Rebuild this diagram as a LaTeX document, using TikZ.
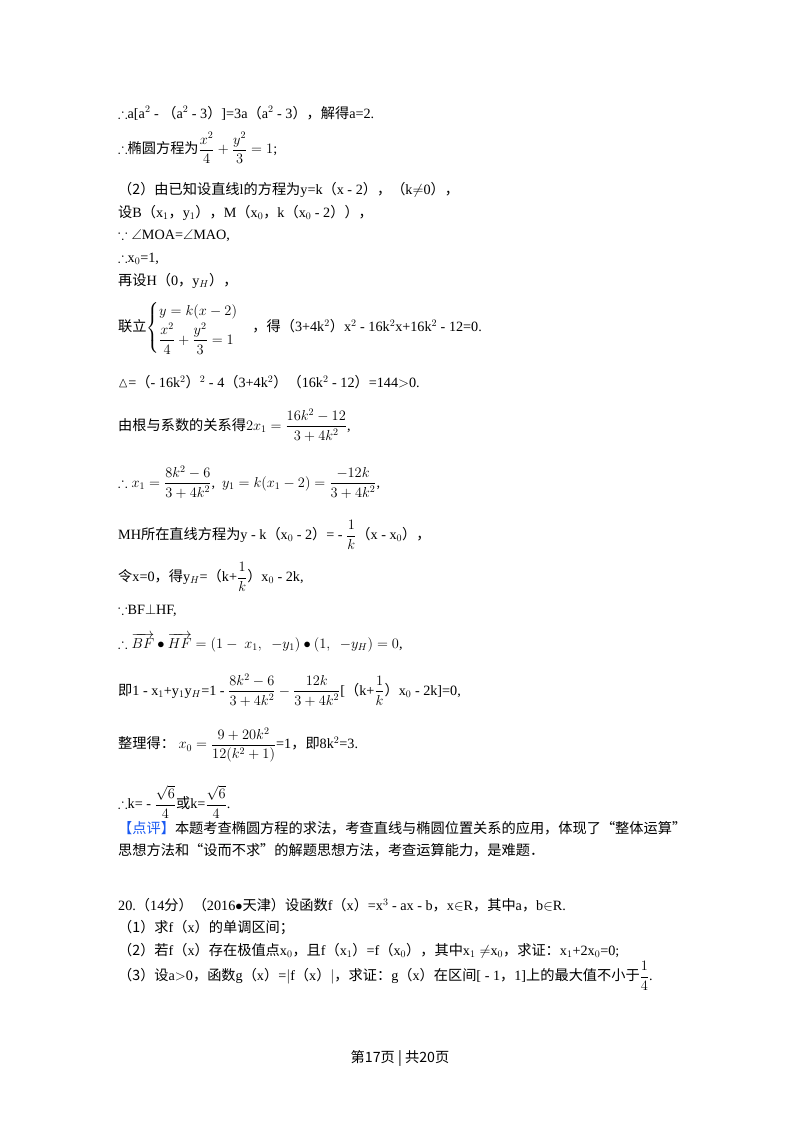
\documentclass[tikz,border=0pt]{standalone}
\usepackage{amsmath,amssymb}
\usepackage{fontspec}
\setmainfont{Liberation Serif}
\newfontfamily\cjk{Noto Sans CJK SC}
\newcommand\zh[1]{{\cjk #1}}
\begin{document}
\begin{tikzpicture}[x=1pt,y=-1pt,every node/.style={anchor=west,inner sep=0pt,font=\fontsize{14.2}{16}\selectfont}]
\useasboundingbox (0,0) rectangle (800,1132);
\node (l1) at (118,113) {$\therefore$a[a$^2$ - \zh{（}a$^2$ - 3\zh{）}]=3a\zh{（}a$^2$ - 3\zh{），解得}a=2.};
\node (l2) at (118,148) {$\therefore$\zh{椭圆方程为}$\dfrac{x^2}{4}+\dfrac{y^2}{3}=1$;};
\node (l3) at (118,190) {\zh{（2）由已知设直线}l\zh{的方程为}y=k\zh{（}x - 2\zh{），（}k$\neq$0\zh{），}};
\node (l4) at (118,213) {\zh{设}B\zh{（}x$_1$\zh{，}y$_1$\zh{），}M\zh{（}x$_0$\zh{，}k\zh{（}x$_0$ - 2\zh{））}\zh{，}};
\node (l5) at (118,236) {$\because\angle$MOA=$\angle$MAO,};
\node (l6) at (118,259) {$\therefore$x$_0$=1,};
\node (l7) at (118,281) {\zh{再设}H\zh{（}0\zh{，}y$_H$\zh{），}};
\node (l8) at (118,328) {\zh{联立}$\begin{cases} y=k(x-2)\\[2pt] \dfrac{x^2}{4}+\dfrac{y^2}{3}=1\end{cases}$\zh{，得（}3+4k$^2$\zh{）}x$^2$ - 16k$^2$x+16k$^2$ - 12=0.};
\node (l9) at (118,382) {$\vartriangle$=\zh{（}- 16k$^2$\zh{）}$^2$ - 4\zh{（}3+4k$^2$\zh{）（}16k$^2$ - 12\zh{）}=144$>$0.};
\node (l10) at (118,425) {\zh{由根与系数的关系得}$2x_1=\dfrac{16k^2-12}{3+4k^2}$,};
\node (l11) at (118,482) {$\therefore x_1=\dfrac{8k^2-6}{3+4k^2}$,\ \ $y_1=k(x_1-2)=\dfrac{-12k}{3+4k^2}$,};
\node (l12) at (118,535) {MH\zh{所在直线方程为}y - k\zh{（}x$_0$ - 2\zh{）}= - $\dfrac{1}{k}$\zh{（}x - x$_0$\zh{），}};
\node (l13) at (118,577) {\zh{令}x=0\zh{，得}y$_H$=\zh{（}k+$\dfrac{1}{k}$\zh{）}x$_0$ - 2k,};
\node (l14) at (118,611) {$\because$BF$\perp$HF,};
\node (l15) at (118,643) {$\therefore\overrightarrow{BF}\bullet\overrightarrow{HF}=(1-\ x_1,\ \ -y_1)\bullet(1,\ \ -y_H)=0$,};
\node (l16) at (118,690) {\zh{即}1 - x$_1$+y$_1$y$_H$=1 - $\dfrac{8k^2-6}{3+4k^2}-\dfrac{12k}{3+4k^2}$[\zh{（}k+$\dfrac{1}{k}$\zh{）}x$_0$ - 2k]=0,};
\node (l17) at (118,745) {\zh{整理得：}\ $x_0=\dfrac{9+20k^2}{12(k^2+1)}$=1\zh{，即}8k$^2$=3.};
\node (l18) at (118,802) {$\therefore$k= - $\dfrac{\sqrt6}{4}$\zh{或}k=$\dfrac{\sqrt6}{4}$.};
\node (l19) at (118,828) {\zh{\textcolor[rgb]{0.1,0.35,0.95}{【点评】}本题考查椭圆方程的求法，考查直线与椭圆位置关系的应用，体现了“整体运算”}};
\node (l20) at (118,850) {\zh{思想方法和“设而不求”的解题思想方法，考查运算能力，是难题．}};
\node (l21) at (118,905) {20.\zh{（}14\zh{分）（}2016$\bullet$\zh{天津）设函数}f\zh{（}x\zh{）}=x$^3$ - ax - b\zh{，}x$\in$R\zh{，其中}a\zh{，}b$\in$R.};
\node (l22) at (118,928) {\zh{（1）求}f\zh{（}x\zh{）的单调区间；}};
\node (l23) at (118,951) {\zh{（2）若}f\zh{（}x\zh{）存在极值点}x$_0$\zh{，且}f\zh{（}x$_1$\zh{）}=f\zh{（}x$_0$\zh{），其中}x$_1\neq$x$_0$\zh{，求证：}x$_1$+2x$_0$=0;};
\node (l24) at (118,976) {\zh{（3）设}a$>$0\zh{，函数}g\zh{（}x\zh{）}=$|$f\zh{（}x\zh{）}$|$\zh{，求证：}g\zh{（}x\zh{）在区间}[ - 1\zh{，}1]\zh{上的最大值不小于}$\dfrac14$.};
\node[anchor=center] (ft) at (400,1058) {\zh{第17页 | 共20页}};
\end{tikzpicture}
\end{document}
